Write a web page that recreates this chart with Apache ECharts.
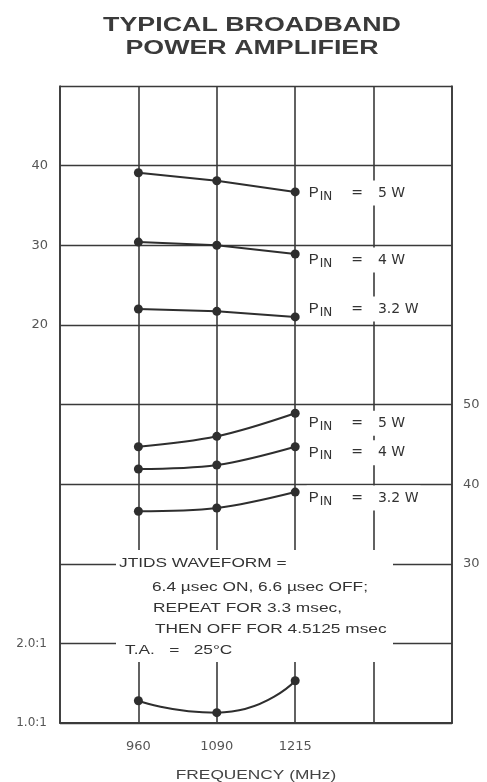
<!DOCTYPE html>
<html>
<head>
<meta charset="utf-8">
<script src="https://cdn.jsdelivr.net/npm/echarts@6/dist/echarts.min.js"></script>
<style>
html,body{margin:0;padding:0;background:#fff;}
#c{width:487px;height:782px;}
</style>
</head>
<body>
<div id="c"></div>
<script>
// ---- data ----
var freqLabels = ['960', '1090', '1215'];          // columns 1..3 of the grid
var pinLabels = ['5 W', '4 W', '3.2 W'];
// upper block (left scale, 20-40)
var upper5W = [39.1, 38.1, 36.7];
var upper4W = [30.4, 30.0, 28.9];
var upper32W = [22.0, 21.7, 21.0];
// middle block (right scale, 30-50)
var mid5W = [44.7, 46.0, 48.9];
var mid4W = [41.9, 42.4, 44.7];
var mid32W = [36.6, 37.0, 39.0];
// VSWR block (left scale 1.0:1 - 2.0:1)
var vswr = [1.28, 1.13, 1.53];
var leftTicks = [20, 30, 40];
var rightTicks = [30, 40, 50];
var vswrTicks = {1: '1.0:1', 2: '2.0:1'};

function pts(arr) { return arr.map(function (v, i) { return [i + 1, v]; }); }

var ink = '#2e2e2e';
var gridColor = '#3a3a3a';

function pinLabel(txt, dy) {
  return {
    show: true,
    position: 'right',
    distance: 7,
    offset: [0, dy],
    backgroundColor: '#fff',
    padding: [3, 2, 3, 2],
    formatter: function (p) {
      return p.dataIndex === 2 ? '{p|P}{s|IN}{e|=}{v|' + txt + '}' : '';
    },
    rich: {
      p: {fontSize: 15, fontFamily: 'Liberation Sans', color: '#333'},
      s: {fontSize: 12, fontFamily: 'DejaVu Sans', color: '#333', padding: [7, 0, 0, 1]},
      e: {fontSize: 14, fontFamily: 'DejaVu Sans', color: '#333', padding: [0, 15, 0, 19]},
      v: {fontSize: 14, fontFamily: 'DejaVu Sans', color: '#333'}
    }
  };
}

function mkSeries(data, axis, smooth, lbl) {
  var s = {
    type: 'line',
    data: pts(data),
    yAxisIndex: axis,
    smooth: smooth,
    symbol: 'circle',
    symbolSize: 9,
    lineStyle: {color: ink, width: 2},
    itemStyle: {color: ink},
    z: 5,
    animation: false
  };
  if (lbl) s.label = lbl;
  return s;
}

var chart = echarts.init(document.getElementById('c'), null, {renderer: 'canvas'});
var labelFont = {fontFamily: 'DejaVu Sans', fontSize: 13, color: '#555'};

chart.setOption({
  backgroundColor: '#fff',
  animation: false,
  grid: {left: 60, right: 35, top: 86, bottom: 59},
  xAxis: {
    type: 'value', min: 0, max: 5, interval: 1,
    axisLine: {show: true, onZero: false, lineStyle: {color: gridColor, width: 2}},
    axisTick: {show: false},
    splitLine: {show: true, lineStyle: {color: gridColor, width: 1.6}},
    axisLabel: Object.assign({margin: 17, formatter: function (v) { return freqLabels[v - 1] || ''; }}, labelFont)
  },
  yAxis: [
    {
      type: 'value', position: 'left', min: -30, max: 50, interval: 10,
      axisLine: {show: true, onZero: false, lineStyle: {color: gridColor, width: 1.6}},
      axisTick: {show: false},
      splitLine: {show: true, lineStyle: {color: gridColor, width: 1.4}},
      axisLabel: Object.assign({margin: 12, formatter: function (v) { return leftTicks.indexOf(v) >= 0 ? String(v) : ''; }}, labelFont)
    },
    {
      type: 'value', position: 'right', min: 10, max: 90, interval: 10,
      axisLine: {show: true, onZero: false, lineStyle: {color: gridColor, width: 1.6}},
      axisTick: {show: false},
      splitLine: {show: false},
      axisLabel: Object.assign({margin: 11, formatter: function (v) { return rightTicks.indexOf(v) >= 0 ? String(v) : ''; }}, labelFont)
    },
    {
      type: 'value', position: 'left', min: 1, max: 9, interval: 1,
      axisLine: {show: false, onZero: false},
      axisTick: {show: false},
      splitLine: {show: false},
      axisLabel: Object.assign({margin: 13, formatter: function (v) { return vswrTicks[v] || ''; }}, labelFont, {fontSize: 12})
    }
  ],
  series: [
    mkSeries(upper5W, 0, false, pinLabel(pinLabels[0], 1)),
    mkSeries(upper4W, 0, false, pinLabel(pinLabels[1], 6)),
    mkSeries(upper32W, 0, false, pinLabel(pinLabels[2], -8)),
    mkSeries(mid5W, 1, 0.35, pinLabel(pinLabels[0], 10)),
    mkSeries(mid4W, 1, 0.35, pinLabel(pinLabels[1], 6)),
    mkSeries(mid32W, 1, 0.35, pinLabel(pinLabels[2], 6)),
    mkSeries(vswr, 2, 0.6, null)
  ],
  graphic: [
    {type: 'text', x: 252, y: 25, scaleX: 1.34, z: 20,
     style: {text: 'TYPICAL BROADBAND', font: 'bold 20px "Liberation Sans"', fill: '#3a3a3a', textAlign: 'center', textVerticalAlign: 'middle'}},
    {type: 'text', x: 252, y: 48, scaleX: 1.34, z: 20,
     style: {text: 'POWER AMPLIFIER', font: 'bold 20px "Liberation Sans"', fill: '#3a3a3a', textAlign: 'center', textVerticalAlign: 'middle'}},
    {type: 'rect', z: 20, shape: {x: 116, y: 550, width: 277, height: 112}, style: {fill: '#fff'}},
    {type: 'text', x: 119, y: 563, scaleX: 1.33, z: 21,
     style: {text: 'JTIDS WAVEFORM =', font: '13px "Liberation Sans"', fill: '#333', textAlign: 'left', textVerticalAlign: 'middle'}},
    {type: 'text', x: 152, y: 587, scaleX: 1.33, z: 21,
     style: {text: '6.4 \u00b5sec ON, 6.6 \u00b5sec OFF;', font: '13px "Liberation Sans"', fill: '#333', textAlign: 'left', textVerticalAlign: 'middle'}},
    {type: 'text', x: 153, y: 608, scaleX: 1.33, z: 21,
     style: {text: 'REPEAT FOR 3.3 msec,', font: '13px "Liberation Sans"', fill: '#333', textAlign: 'left', textVerticalAlign: 'middle'}},
    {type: 'text', x: 155, y: 629, scaleX: 1.33, z: 21,
     style: {text: 'THEN OFF FOR 4.5125 msec', font: '13px "Liberation Sans"', fill: '#333', textAlign: 'left', textVerticalAlign: 'middle'}},
    {type: 'text', x: 125, y: 650, scaleX: 1.33, z: 21,
     style: {text: 'T.A.   =   25\u00b0C', font: '13px "Liberation Sans"', fill: '#333', textAlign: 'left', textVerticalAlign: 'middle'}},
    {type: 'text', x: 256, y: 775, scaleX: 1.33, z: 21,
     style: {text: 'FREQUENCY (MHz)', font: '13px "Liberation Sans"', fill: '#444', textAlign: 'center', textVerticalAlign: 'middle'}}
  ]
});
</script>
</body>
</html>
